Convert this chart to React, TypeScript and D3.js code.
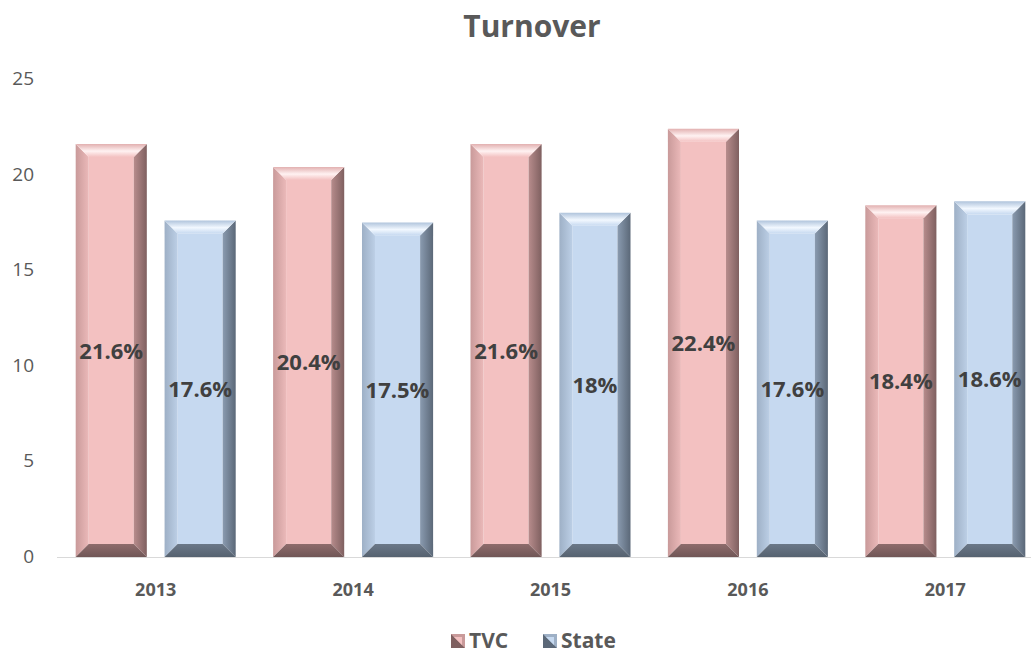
import React from "react";
import * as d3 from "d3";

const years = ["2013", "2014", "2015", "2016", "2017"];
const seriesNames = ["TVC", "State"];
const tvc = [21.6, 20.4, 21.6, 22.4, 18.4];
const state = [17.6, 17.5, 18, 17.6, 18.6];
const labelsTvc = ["21.6%", "20.4%", "21.6%", "22.4%", "18.4%"];
const labelsState = ["17.6%", "17.5%", "18%", "17.6%", "18.6%"];
const yTicks = [0, 5, 10, 15, 20, 25];

const W = 1031;
const H = 656;
const FONT = "'Open Sans', 'DejaVu Sans', sans-serif";

const palette = {
  TVC: {
    center: "#f3c1c1",
    topEdge: "#e2b0b0",
    highlight: "#fff2f2",
    left: ["#c99a9a", "#ebb9b9"],
    right: ["#b78c8c", "#7f6060"],
    bottom: ["#8e6c6c", "#705656"],
  },
  State: {
    center: "#c6d9f0",
    topEdge: "#b0c4dc",
    highlight: "#f2f8ff",
    left: ["#9eb0c6", "#bccfe6"],
    right: ["#8a9bb0", "#5b6878"],
    bottom: ["#6b7888", "#566270"],
  },
};

const App = () => {
  const svgRef = React.useRef<SVGSVGElement>(null);

  React.useEffect(() => {
    const svg = d3.select(svgRef.current);
    svg.selectAll("*").remove();

    const x0 = d3.scaleBand().domain(years).range([57, 1044]).padding(0);
    const x1 = d3
      .scaleBand()
      .domain(seriesNames)
      .range([18.7, x0.bandwidth() - 18.7])
      .paddingInner(0.2)
      .paddingOuter(0);
    const y = d3.scaleLinear().domain([0, 25]).range([557, 79]);

    const defs = svg.append("defs");
    const lin = (id: string, stops: [number, string][], x2: string, y2: string) => {
      const g = defs
        .append("linearGradient")
        .attr("id", id)
        .attr("x1", "0")
        .attr("y1", "0")
        .attr("x2", x2)
        .attr("y2", y2);
      stops.forEach(([o, c]) => g.append("stop").attr("offset", o).attr("stop-color", c));
    };
    seriesNames.forEach((s) => {
      const p = palette[s];
      lin(`top-${s}`, [[0, p.topEdge], [0.55, p.highlight], [1, p.center]], "0", "1");
      lin(`left-${s}`, [[0, p.left[0]], [1, p.left[1]]], "1", "0");
      lin(`right-${s}`, [[0, p.right[0]], [1, p.right[1]]], "1", "0");
      lin(`bottom-${s}`, [[0, p.bottom[0]], [1, p.bottom[1]]], "0", "1");
    });

    // title
    svg
      .append("text")
      .attr("x", 532)
      .attr("y", 37)
      .attr("text-anchor", "middle")
      .attr("font-family", FONT)
      .attr("font-weight", "bold")
      .attr("font-size", 30)
      .attr("fill", "#595959")
      .text("Turnover");

    // y axis labels
    svg
      .append("g")
      .selectAll("text")
      .data(yTicks)
      .enter()
      .append("text")
      .attr("x", 34)
      .attr("y", (d) => y(d) + 6)
      .attr("text-anchor", "end")
      .attr("font-family", FONT)
      .attr("font-size", 19)
      .attr("fill", "#595959")
      .text((d) => d);

    // bars
    const rows = years.flatMap((yr, i) => [
      { year: yr, s: "TVC", v: tvc[i], label: labelsTvc[i] },
      { year: yr, s: "State", v: state[i], label: labelsState[i] },
    ]);

    const bars = svg.append("g");
    rows.forEach((d) => {
      const bx = x0(d.year) + x1(d.s);
      const bw = x1.bandwidth();
      const by = y(d.v);
      const bh = y(0) - by;
      const b = Math.min(13, bh / 2, bw / 2);
      const g = bars.append("g");
      const pt = (pts: number[][]) => "M" + pts.map((p) => p.join(",")).join("L") + "Z";
      g.append("rect")
        .attr("x", bx + b)
        .attr("y", by + b)
        .attr("width", bw - 2 * b)
        .attr("height", bh - 2 * b)
        .attr("fill", palette[d.s].center);
      g.append("path")
        .attr("d", pt([[bx, by], [bx + b, by + b], [bx + b, by + bh - b], [bx, by + bh]]))
        .attr("fill", `url(#left-${d.s})`);
      g.append("path")
        .attr("d", pt([[bx + bw, by], [bx + bw, by + bh], [bx + bw - b, by + bh - b], [bx + bw - b, by + b]]))
        .attr("fill", `url(#right-${d.s})`);
      g.append("path")
        .attr("d", pt([[bx, by + bh], [bx + b, by + bh - b], [bx + bw - b, by + bh - b], [bx + bw, by + bh]]))
        .attr("fill", `url(#bottom-${d.s})`);
      g.append("path")
        .attr("d", pt([[bx, by], [bx + bw, by], [bx + bw - b, by + b], [bx + b, by + b]]))
        .attr("fill", `url(#top-${d.s})`);
    });

    // axis line
    svg
      .append("line")
      .attr("x1", 57)
      .attr("x2", W)
      .attr("y1", y(0) + 0.5)
      .attr("y2", y(0) + 0.5)
      .attr("stroke", "#d9d9d9")
      .attr("stroke-width", 1);

    // data labels
    svg
      .append("g")
      .selectAll("text")
      .data(rows)
      .enter()
      .append("text")
      .attr("x", (d) => x0(d.year) + x1(d.s) + x1.bandwidth() / 2)
      .attr("y", (d) => (y(d.v) + y(0)) / 2 + 8)
      .attr("text-anchor", "middle")
      .attr("font-family", FONT)
      .attr("font-weight", "bold")
      .attr("font-size", 22)
      .attr("fill", "#404040")
      .text((d) => d.label);

    // x labels
    svg
      .append("g")
      .selectAll("text")
      .data(years)
      .enter()
      .append("text")
      .attr("x", (d) => x0(d) + x0.bandwidth() / 2)
      .attr("y", 596)
      .attr("text-anchor", "middle")
      .attr("font-family", FONT)
      .attr("font-weight", "bold")
      .attr("font-size", 18)
      .attr("fill", "#595959")
      .text((d) => d);

    // legend
    const legendX = [451, 543];
    const lg = svg.append("g");
    seriesNames.forEach((s, i) => {
      const lx = legendX[i];
      const ly = 634;
      const p = palette[s];
      lg.append("rect").attr("x", lx).attr("y", ly).attr("width", 14).attr("height", 14).attr("fill", p.center);
      lg.append("path")
        .attr("d", `M${lx},${ly}L${lx + 14},${ly}L${lx + 14},${ly + 14}Z`)
        .attr("fill", p.left[0]);
      lg.append("path")
        .attr("d", `M${lx},${ly}L${lx + 14},${ly + 14}L${lx},${ly + 14}Z`)
        .attr("fill", p.right[1]);
      lg.append("path")
        .attr("d", `M${lx + 3},${ly + 3}L${lx + 11},${ly + 3}L${lx + 11},${ly + 11}Z`)
        .attr("fill", p.center);
      lg.append("text")
        .attr("x", lx + 18)
        .attr("y", 648)
        .attr("font-family", FONT)
        .attr("font-weight", "bold")
        .attr("font-size", 21)
        .attr("fill", "#595959")
        .text(s);
    });
  }, []);

  return (
    <svg
      ref={svgRef}
      width={W}
      height={H}
      style={{ position: "absolute", left: 0, top: 0, background: "#fff" }}
    ></svg>
  );
};

export default App;
